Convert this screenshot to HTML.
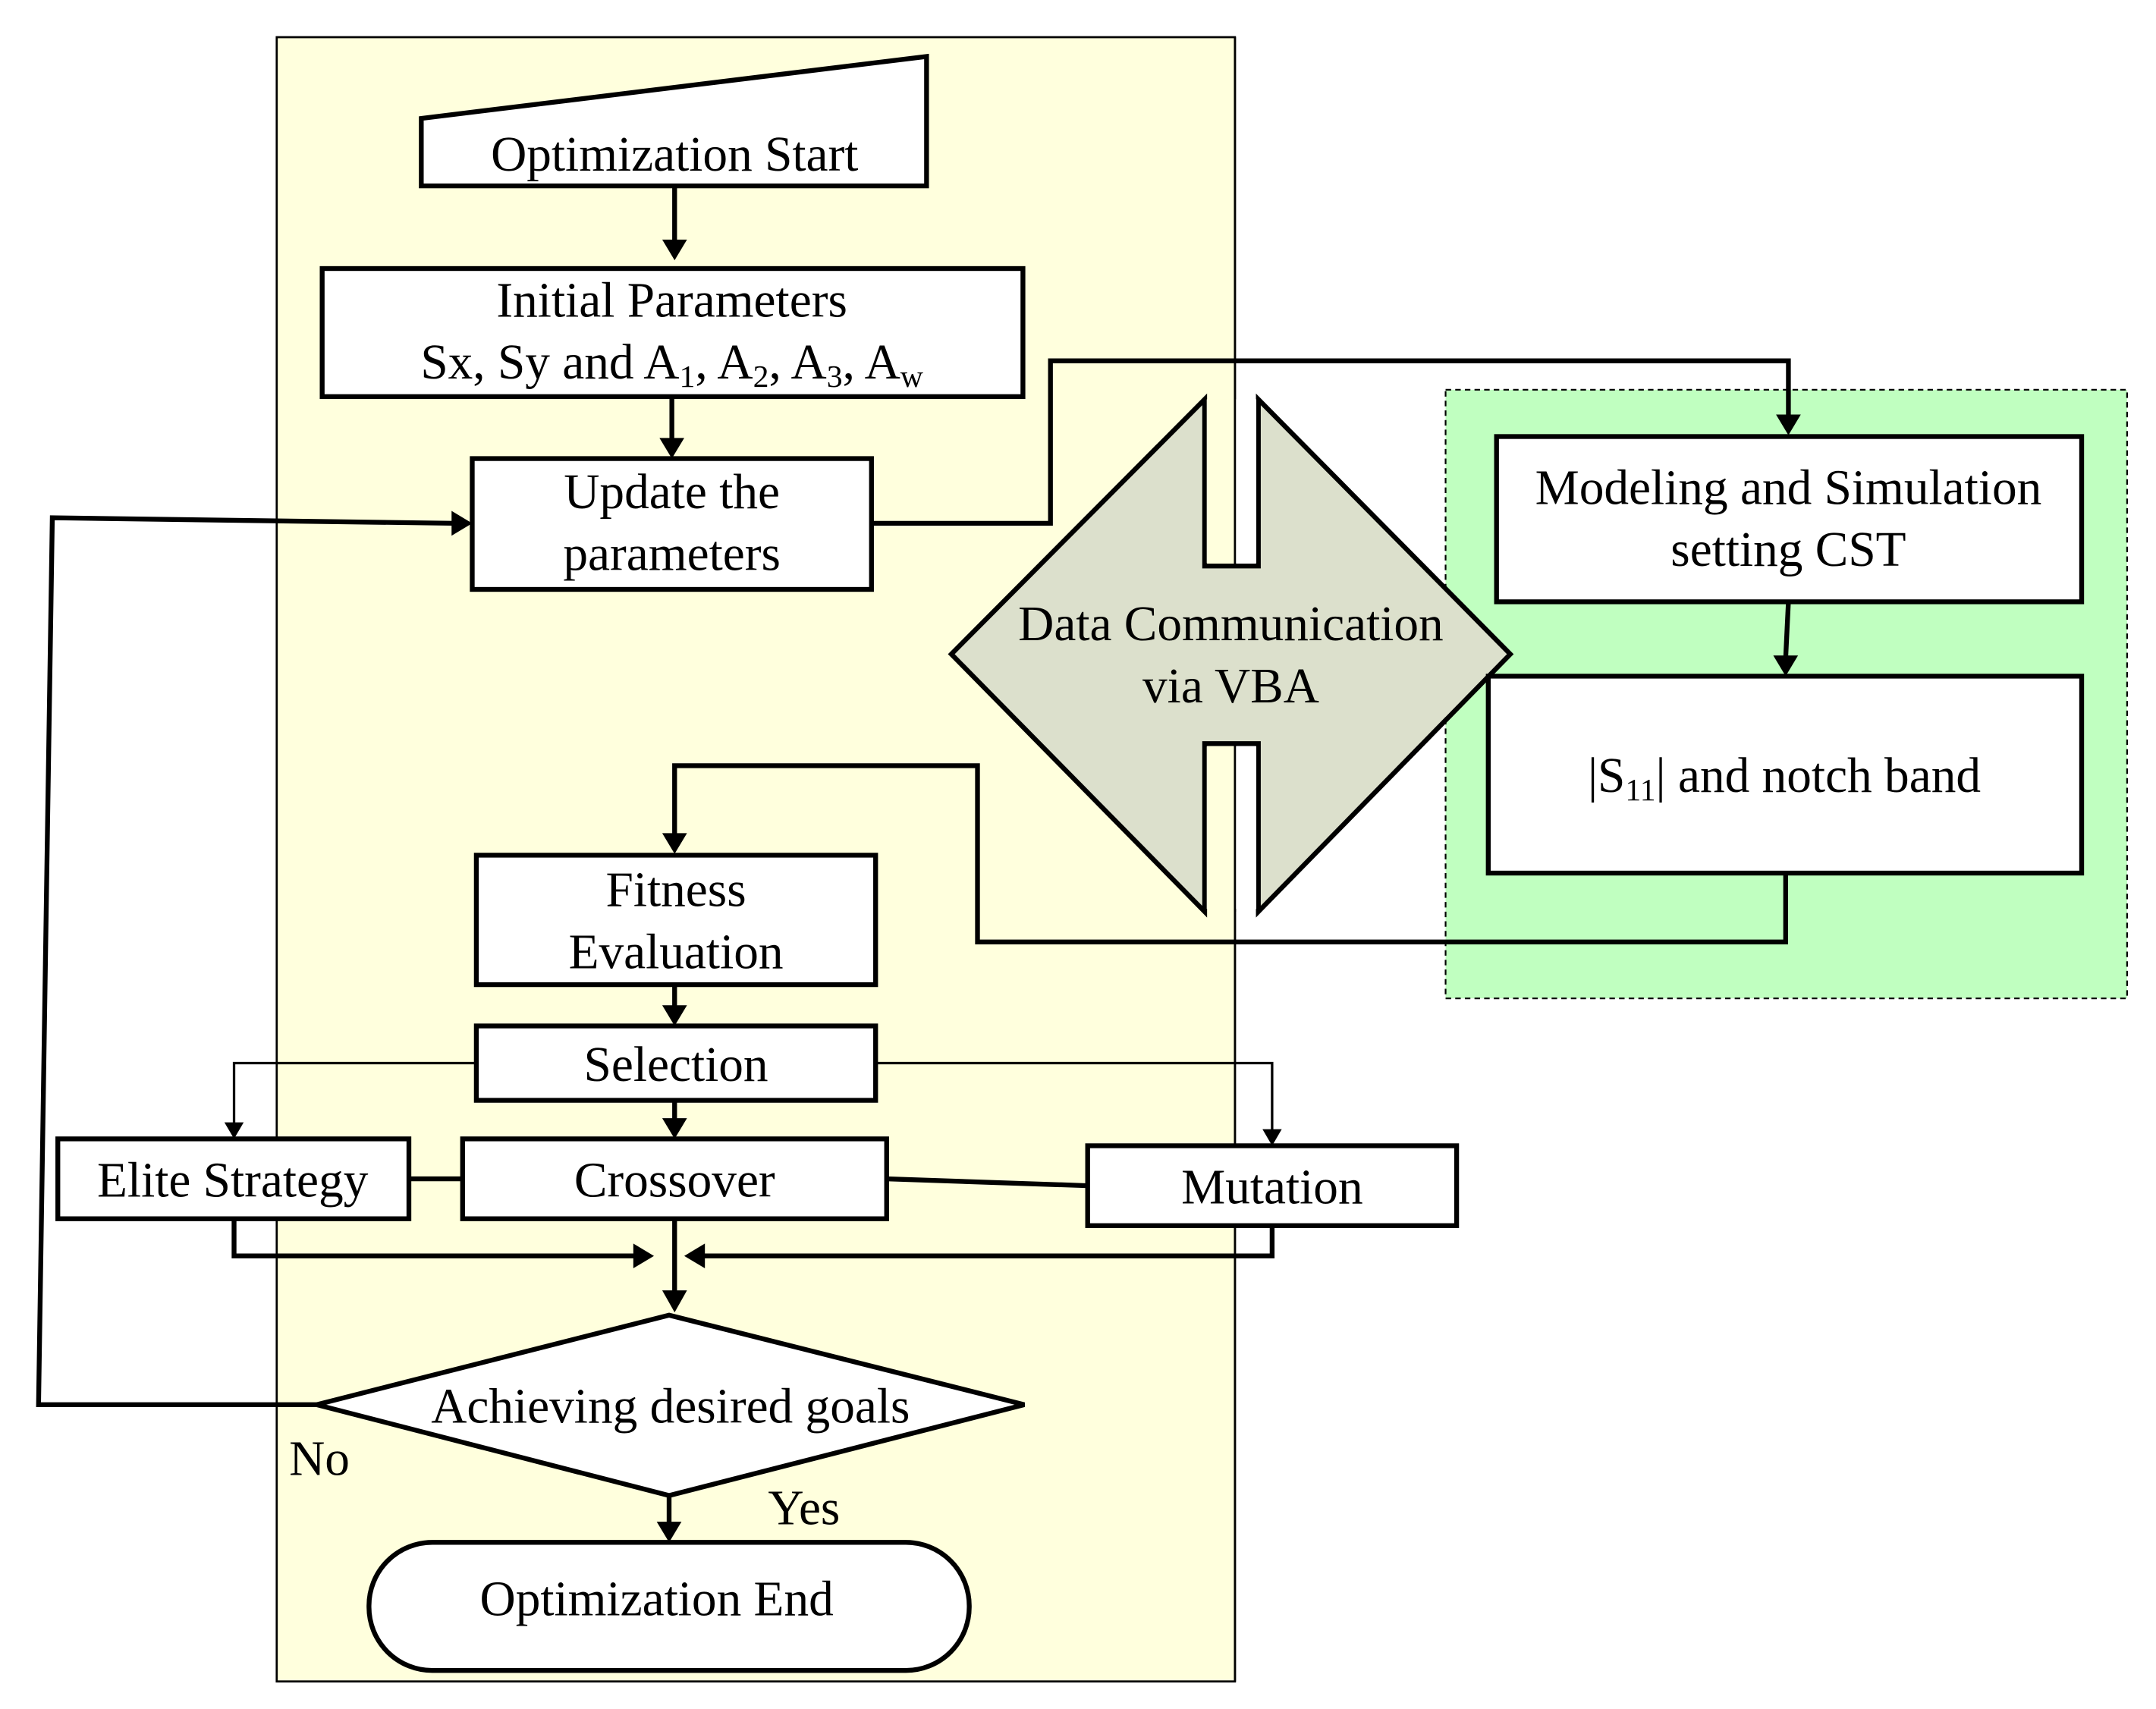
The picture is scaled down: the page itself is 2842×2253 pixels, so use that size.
<!DOCTYPE html>
<html><head><meta charset="utf-8"><style>
html,body{margin:0;padding:0;background:#fff;}
svg{display:block;}
text{font-family:"Liberation Serif",serif;font-size:36px;fill:#000;}
</style></head><body>
<svg width="2842" height="2253" viewBox="0 0 1566 1241" preserveAspectRatio="none" xmlns="http://www.w3.org/2000/svg">
<rect x="201" y="27" width="696" height="1194" fill="#ffffdd" stroke="#000" stroke-width="1.5"/>
<rect x="1050" y="283" width="495" height="442" fill="#c0ffc0" stroke="#000" stroke-width="1.2" stroke-dasharray="4,3"/>
<line x1="897" y1="27" x2="897" y2="1221" stroke="#000" stroke-width="1.5"/>

<polygon points="691,475 875,290 875,411 914,411 914,290 1097,475 914,662 914,540 875,540 875,662" fill="#dce0cc" stroke="#000" stroke-width="3.5"/>
<rect x="876.5" y="290" width="19" height="119" fill="#ffffdd"/>
<rect x="876.5" y="542" width="19" height="118" fill="#ffffdd"/>
<rect x="896.5" y="290" width="16" height="119" fill="#fff"/>
<rect x="896.5" y="542" width="16" height="118" fill="#fff"/>
<line x1="897" y1="290" x2="897" y2="411" stroke="#000" stroke-width="1.5"/>
<line x1="897" y1="540" x2="897" y2="662" stroke="#000" stroke-width="1.5"/>

<g stroke="#000" stroke-width="3.5" fill="#fff">
<polygon points="306,86 673,41 673,135 306,135"/>
<rect x="234" y="195" width="509" height="93"/>
<rect x="343" y="333" width="290" height="95"/>
<rect x="1087" y="317" width="425" height="120"/>
<rect x="1081" y="491" width="431" height="143"/>
<rect x="346" y="621" width="290" height="94"/>
<rect x="346" y="745" width="290" height="54"/>
<rect x="42" y="827" width="255" height="58"/>
<rect x="336" y="827" width="308" height="58"/>
<rect x="790" y="832" width="268" height="58"/>
<polygon points="230,1020 486,955 744,1020 486,1086"/>
<rect x="268" y="1120" width="436" height="93" rx="46" ry="46"/>
</g>

<g stroke="#000" stroke-width="3.5" fill="none">
<path d="M490,135V176"/>
<path d="M488,288V320"/>
<path d="M633,380H763V262H1299V303"/>
<path d="M1299,437L1297,478"/>
<path d="M1297,634V684H710V556H490V607"/>
<path d="M490,715V732"/>
<path d="M490,799V814"/>
<path d="M170,885V912H462"/>
<path d="M924,890V912H510"/>
<path d="M490,885V939"/>
<path d="M486,1086V1107"/>
<path d="M230,1020H28L38,376L330,380"/>
<path d="M297,856H336"/>
<path d="M644,856L790,861"/>
</g>
<g stroke="#000" stroke-width="1.8" fill="none">
<path d="M346,772H170V818"/>
<path d="M636,772H924V823"/>
</g>
<g fill="#000">
<polygon points="481,174 499,174 490,189"/>
<polygon points="479,318 497,318 488,333"/>
<polygon points="1290,301 1308,301 1299,316"/>
<polygon points="1288,476 1306,476 1297,491"/>
<polygon points="481,605 499,605 490,620"/>
<polygon points="481,730 499,730 490,745"/>
<polygon points="481,812 499,812 490,827"/>
<polygon points="163,815 177,815 170,827"/>
<polygon points="917,820 931,820 924,832"/>
<polygon points="460,903 460,921 475,912"/>
<polygon points="512,903 512,921 497,912"/>
<polygon points="481,937 499,937 490,953"/>
<polygon points="477,1105 495,1105 486,1120"/>
<polygon points="328,371 328,389 343,380"/>
</g>

<g text-anchor="middle">
<text x="490" y="124">Optimization Start</text>
<text x="488" y="230">Initial Parameters</text>
<text x="488" y="275">Sx, Sy and A<tspan font-size="23" dy="6">1</tspan><tspan dy="-6">, A</tspan><tspan font-size="23" dy="6">2</tspan><tspan dy="-6">, A</tspan><tspan font-size="23" dy="6">3</tspan><tspan dy="-6">, A</tspan><tspan font-size="23" dy="6">w</tspan></text>
<text x="488" y="369">Update the</text>
<text x="488" y="414">parameters</text>
<text x="894" y="465">Data Communication</text>
<text x="894" y="510">via VBA</text>
<text x="1299" y="366">Modeling and Simulation</text>
<text x="1299" y="411">setting CST</text>
<text x="1296" y="575">|S<tspan font-size="23" dy="6">11</tspan><tspan dy="-6">| and notch band</tspan></text>
<text x="491" y="658">Fitness</text>
<text x="491" y="703">Evaluation</text>
<text x="491" y="785">Selection</text>
<text x="169" y="869">Elite Strategy</text>
<text x="490" y="869">Crossover</text>
<text x="924" y="874">Mutation</text>
<text x="487" y="1033">Achieving desired goals</text>
<text x="232" y="1071">No</text>
<text x="584" y="1107">Yes</text>
<text x="477" y="1173">Optimization End</text>
</g>
</svg>
</body></html>
